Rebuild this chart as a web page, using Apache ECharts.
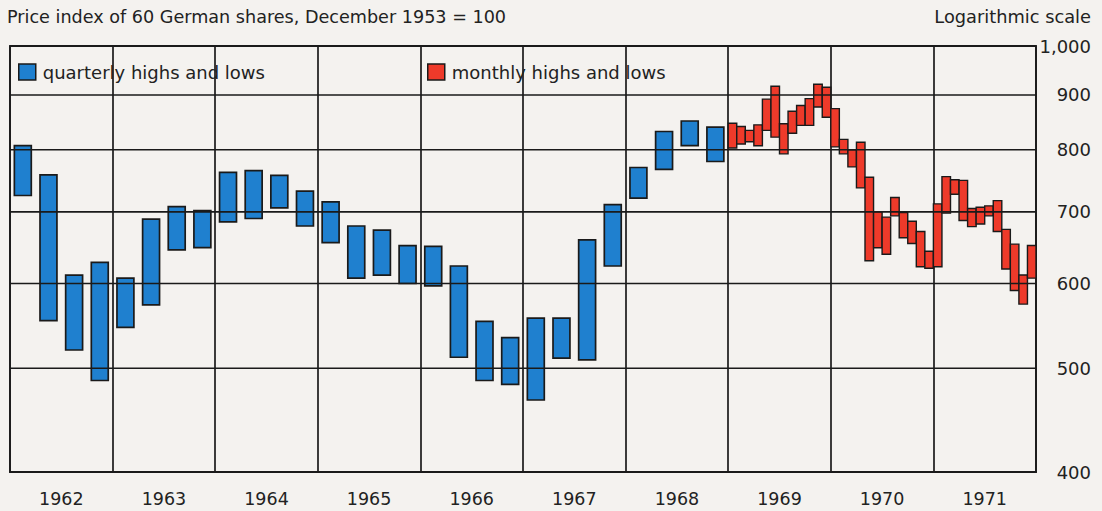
<!DOCTYPE html>
<html>
<head>
<meta charset="utf-8">
<title>Price index of 60 German shares</title>
<script src="https://cdn.jsdelivr.net/npm/echarts@6/dist/echarts.min.js"></script>
<style>
  html, body { margin: 0; padding: 0; background: #f4f2ef; }
  #chart { width: 1102px; height: 511px; }
</style>
</head>
<body>
<div id="chart"></div>
<script>
// Year bands along the bottom
const years = ['1962', '1963', '1964', '1965', '1966', '1967', '1968', '1969', '1970', '1971'];

// Quarterly highs and lows, 1962 Q1 .. 1968 Q4
const quarterlyHigh = [807, 758, 611, 628, 607, 689, 708, 702, 762, 765, 757, 732, 715, 679, 673, 651,
                       650, 623, 553, 534, 557, 557, 659, 711, 770, 832, 851, 840];
const quarterlyLow  = [725, 554, 520, 487, 546, 573, 645, 648, 685, 690, 706, 679, 655, 607, 611, 600,
                       597, 512, 487, 483, 467, 511, 509, 623, 721, 767, 807, 780];

// Monthly highs and lows, January 1969 .. December 1971
const monthlyHigh = [847, 841, 834, 844, 892, 917, 846, 869, 880, 893, 921, 915,
                     874, 818, 800, 813, 754, 700, 692, 722, 699, 686, 671, 643,
                     712, 755, 750, 749, 705, 707, 709, 717, 674, 653, 611, 651];
const monthlyLow  = [803, 810, 814, 807, 834, 822, 793, 829, 843, 843, 877, 858,
                     805, 793, 771, 737, 630, 648, 639, 694, 662, 654, 622, 620,
                     622, 698, 727, 687, 678, 682, 694, 671, 619, 591, 574, 607];

// Logarithmic scale ticks on the right
const yTicks = [400, 500, 600, 700, 800, 900, 1000];
const yTickLabels = ['400', '500', '600', '700', '800', '900', '1,000'];
const yGridValues = [500, 600, 700, 800, 900];

const FONT = 'DejaVu Sans';
const INK = '#1a1a1a';
const TEXT = '#222222';
const BLUE = '#1f80cf';
const RED = '#ee3a2a';

const monthsTotal = years.length * 12;
const firstMonthly = 7 * 12; // January 1969, counted in months from January 1962

const quarterData = quarterlyHigh.map((h, i) => [i * 3 + 1.5, quarterlyLow[i], h]);
const monthData = monthlyHigh.map((h, j) => [firstMonthly + j + 0.5, monthlyLow[j], h]);
const gridData = yGridValues.map(v => [0, v]);

// Draws one high-low range as a box spanning `span` months, `ratio` of it filled
function rangeBox(span, ratio, fill, lineWidth) {
  return function (params, api) {
    const x = api.value(0);
    const lo = api.value(1);
    const hi = api.value(2);
    const top = api.coord([x, hi]);
    const bot = api.coord([x, lo]);
    const a = api.coord([x - span / 2, hi])[0];
    const b = api.coord([x + span / 2, hi])[0];
    const w = (b - a) * ratio;
    return {
      type: 'rect',
      shape: { x: top[0] - w / 2, y: top[1], width: w, height: bot[1] - top[1] },
      style: { fill: fill, stroke: INK, lineWidth: lineWidth }
    };
  };
}

const chart = echarts.init(document.getElementById('chart'), null, { renderer: 'svg' });

const legendBase = {
  orient: 'horizontal',
  top: 63,
  padding: 0,
  icon: 'rect',
  itemWidth: 17,
  itemHeight: 16,
  selectedMode: false,
  textStyle: { fontFamily: FONT, fontSize: 18, color: TEXT, padding: [0, 0, 0, 2] },
  itemStyle: { borderColor: INK, borderWidth: 1.5 }
};

chart.setOption({
  backgroundColor: '#f4f2ef',
  animation: false,
  title: [
    {
      text: 'Price index of 60 German shares, December 1953 = 100',
      left: 7, top: 8, padding: 0,
      textStyle: { fontFamily: FONT, fontSize: 17.6, fontWeight: 'normal', color: TEXT }
    },
    {
      text: 'Logarithmic scale',
      right: 11, top: 7, padding: 0,
      textStyle: { fontFamily: FONT, fontSize: 17.8, fontWeight: 'normal', color: TEXT }
    }
  ],
  legend: [
    Object.assign({}, legendBase, { left: 18, data: ['quarterly highs and lows'] }),
    Object.assign({}, legendBase, { left: 427, data: ['monthly highs and lows'] })
  ],
  grid: {
    left: 10, top: 46, width: 1026, height: 426,
    show: true, borderColor: INK, borderWidth: 1.8, backgroundColor: 'transparent'
  },
  xAxis: [
    {
      type: 'category',
      data: years,
      boundaryGap: true,
      axisLine: { show: true, lineStyle: { color: INK, width: 1.8 } },
      axisTick: { show: false },
      axisLabel: { interval: 0, margin: 18, fontFamily: FONT, fontSize: 17.5, color: TEXT },
      splitLine: { show: true, interval: 0, lineStyle: { color: INK, width: 1.7 } }
    },
    {
      type: 'value',
      min: 0, max: monthsTotal,
      show: false
    }
  ],
  yAxis: [
    {
      type: 'log', logBase: 10,
      min: yTicks[0], max: yTicks[yTicks.length - 1],
      show: false
    },
    {
      // label axis laid out in log10 space so the ticks sit on the log positions
      type: 'value',
      position: 'right',
      min: Math.log10(yTicks[0]), max: Math.log10(yTicks[yTicks.length - 1]),
      axisLine: { show: false },
      axisTick: { show: false },
      splitLine: { show: false },
      axisLabel: {
        customValues: yTicks.map(v => Math.log10(v)),
        formatter: function (v) {
          const i = yTicks.indexOf(Math.round(Math.pow(10, v)));
          return i >= 0 ? yTickLabels[i] : '';
        },
        align: 'right',
        margin: 55,
        fontFamily: FONT, fontSize: 18, color: TEXT
      }
    }
  ],
  series: [
    {
      name: 'quarterly highs and lows',
      type: 'custom',
      xAxisIndex: 1, yAxisIndex: 0,
      itemStyle: { color: BLUE, borderColor: INK, borderWidth: 1.5 },
      encode: { x: 0, y: [1, 2] },
      renderItem: rangeBox(3, 0.66, BLUE, 1.7),
      data: quarterData,
      z: 2
    },
    {
      name: 'monthly highs and lows',
      type: 'custom',
      xAxisIndex: 1, yAxisIndex: 0,
      itemStyle: { color: RED, borderColor: INK, borderWidth: 1.5 },
      encode: { x: 0, y: [1, 2] },
      renderItem: rangeBox(1, 1, RED, 1.4),
      data: monthData,
      z: 2
    },
    {
      // horizontal rules at the logarithmic gridline values
      name: 'rules',
      type: 'custom',
      xAxisIndex: 1, yAxisIndex: 0,
      silent: true,
      encode: { x: 0, y: 1 },
      renderItem: function (params, api) {
        const v = api.value(1);
        const p0 = api.coord([0, v]);
        const p1 = api.coord([monthsTotal, v]);
        return {
          type: 'line',
          shape: { x1: p0[0], y1: p0[1], x2: p1[0], y2: p1[1] },
          style: { stroke: INK, lineWidth: 1.7 }
        };
      },
      data: gridData,
      z: 3
    }
  ]
});
</script>
</body>
</html>
